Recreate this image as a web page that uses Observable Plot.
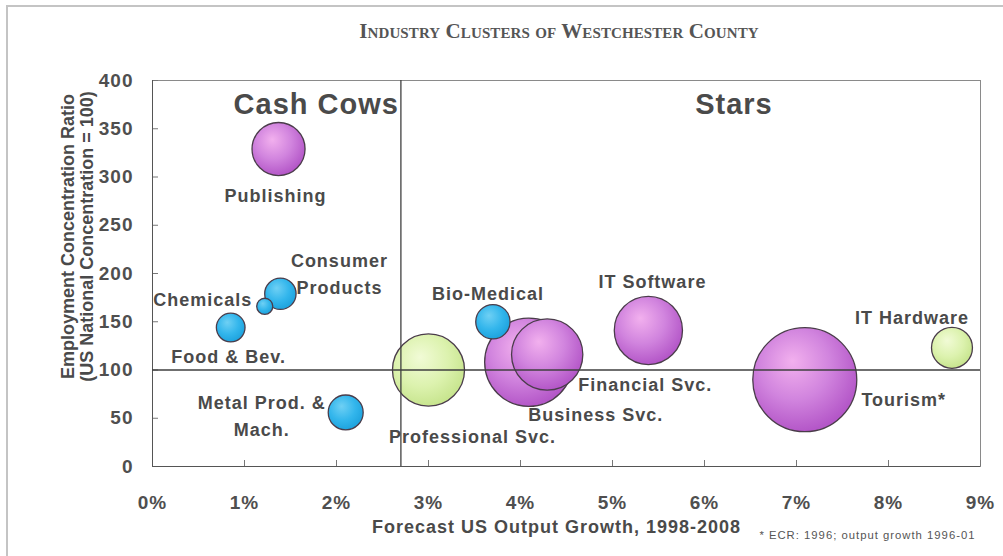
<!DOCTYPE html>
<html>
<head>
<meta charset="utf-8">
<script src="https://cdn.jsdelivr.net/npm/d3@7"></script>
<script src="https://cdn.jsdelivr.net/npm/@observablehq/plot@0.6"></script>
<style>
  body { margin: 0; background: #fff; }
  #wrap { position: relative; width: 1003px; height: 556px; overflow: hidden; background: #fff; }
  #border { position: absolute; left: 6px; top: 5px; width: 1200px; height: 800px;
            border-left: 2px solid #c4c4c4; border-top: 2px solid #c4c4c4; pointer-events: none; }
  #title { height: 45px; box-sizing: border-box; padding-top: 21px; padding-left: 115px;
           line-height: 21px; font-family: "Liberation Serif", "Times New Roman", serif; letter-spacing: 0.1px;
           font-weight: bold; font-variant: small-caps; font-size: 21px; color: #555; text-align: center; }
  svg text { letter-spacing: 1px; }
  svg text.nospace { letter-spacing: 0; }
</style>
</head>
<body>
<div id="wrap">
  <div id="title">Industry Clusters of Westchester County</div>
  <div id="chart"></div>
  <div id="border"></div>
</div>
<script>
// ---- data ----
const clusters = ["Publishing", "Consumer Products", "Chemicals", "Food & Bev.", "Metal Prod. & Mach.",
  "Professional Svc.", "Business Svc.", "Financial Svc.", "Bio-Medical", "IT Software", "Tourism*", "IT Hardware"];
const clusterLabels = ["Publishing", "Consumer\nProducts", "Chemicals", "Food & Bev.", "Metal Prod. &\nMach.",
  "Professional Svc.", "Business Svc.", "Financial Svc.", "Bio-Medical", "IT Software", "Tourism*", "IT Hardware"];
// Forecast US output growth 1998-2008 (%)
const growth = [1.37, 1.39, 1.22, 0.85, 2.10, 3.00, 4.09, 4.29, 3.70, 5.39, 7.09, 8.69];
// Employment concentration ratio (US = 100)
const concentration = [329, 179, 166, 144, 56, 100, 108, 116, 150, 141, 90, 123];
// bubble size (relative employment)
const size = [26, 9.1, 2.4, 7.6, 11.3, 48, 72, 47, 10.9, 43, 100, 15.5];
const group = ["A", "B", "B", "B", "B", "C", "A", "A", "B", "A", "A", "C"];
const groups = ["A", "B", "C"];
const xTicks = [0, 1, 2, 3, 4, 5, 6, 7, 8, 9];
const yTicks = [0, 50, 100, 150, 200, 250, 300, 350, 400];
const dividerX = 2.7;
const benchmarkY = 100;
const quadrantNames = ["Cash Cows", "Stars"];
const xLabel = "Forecast US Output Growth, 1998-2008";
const yLabel = "Employment Concentration Ratio\n(US National Concentration = 100)";
const footnote = "* ECR: 1996; output growth 1996-01";

// ---- layout (label offsets in px) ----
const labelOffset = {
  "Publishing": [-3, 44], "Consumer Products": [59, -22], "Chemicals": [-62, -9],
  "Food & Bev.": [-2, 27], "Metal Prod. & Mach.": [-84, 1], "Professional Svc.": [44, 64],
  "Business Svc.": [67, 50], "Financial Svc.": [98, 28], "Bio-Medical": [-5, -30],
  "IT Software": [4, -51], "Tourism*": [99, 18], "IT Hardware": [-40, -32]
};
const starsX = 6.32;

const data = clusters.map((name, i) => ({
  name, label: clusterLabels[i], growth: growth[i], ecr: concentration[i], size: size[i], group: group[i]
}));

const labelMarks = data.map(d => Plot.text([d], {
  x: "growth", y: "ecr", text: "label", dx: labelOffset[d.name][0], dy: labelOffset[d.name][1],
  fontSize: 18, lineHeight: 1.5, fill: "#4a4a4a"
}));

const plot = Plot.plot({
  width: 1003, height: 511,
  marginTop: 35, marginBottom: 90, marginLeft: 152, marginRight: 23,
  style: { fontFamily: "'Liberation Sans', Arial, sans-serif", fontWeight: "bold", fontSize: "19px",
           color: "#4f4f4f", background: "transparent", overflow: "visible" },
  x: { domain: [0, 9] },
  y: { domain: [0, 400] },
  r: { type: "sqrt", domain: [0, 100], range: [0, 52] },
  color: { domain: groups, range: ["url(#gPurple)", "url(#gBlue)", "url(#gGreen)"] },
  marks: [
    Plot.frame({ stroke: "#8a8a8a", strokeWidth: 1 }),
    Plot.ruleX(xTicks, { x: d => d, insetTop: 380, stroke: "#777" }),
    Plot.ruleY(yTicks, { y: d => d, insetRight: 822, stroke: "#777" }),
    Plot.axisX(xTicks, { tickSize: 0, tickPadding: 29, tickFormat: d => d + "%", label: null, fontSize: 19 }),
    Plot.axisY(yTicks, { tickSize: 0, tickPadding: 19, label: null, fontSize: 19 }),
    Plot.ruleX([0], { stroke: "#555" }),
    Plot.ruleY([0], { stroke: "#555" }),
    Plot.dot(data, { x: "growth", y: "ecr", r: "size", fill: "group", stroke: "#4a3c4a", strokeWidth: 1.3 }),
    Plot.ruleX([dividerX], { stroke: "#3f3f3f", strokeWidth: 1.3 }),
    Plot.ruleY([benchmarkY], { stroke: "#3f3f3f", strokeWidth: 1.3 }),
    ...labelMarks,
    Plot.text([quadrantNames[0]], { x: dividerX, frameAnchor: "top", text: d => d, textAnchor: "end",
      lineAnchor: "top", dx: -2, dy: 13, fontSize: 29, fill: "#4a4a4a" }),
    Plot.text([quadrantNames[1]], { x: starsX, frameAnchor: "top", text: d => d, textAnchor: "middle",
      lineAnchor: "top", dy: 13, fontSize: 29, fill: "#4a4a4a" }),
    Plot.text([yLabel], { frameAnchor: "left", text: d => d, rotate: -90, textAnchor: "middle", dx: -75, dy: -37,
      lineHeight: 1.05, fontSize: 18, fill: "#4a4a4a" }),
    Plot.text([xLabel], { frameAnchor: "bottom", text: d => d, textAnchor: "middle", dx: -10, dy: 66, fontSize: 18,
      fill: "#4a4a4a" }),
    Plot.text([footnote], { frameAnchor: "bottom-right", text: d => d, textAnchor: "end", dx: -5, dy: 72,
      fontSize: 11.3, fontWeight: "normal", fill: "#555" })
  ]
});

const svg = plot.tagName.toLowerCase() === "svg" ? plot : plot.querySelector("svg");
// the rotated axis title keeps normal letter spacing
d3.select(svg).selectAll("text")
  .filter(function () { return this.textContent.startsWith("Employment"); })
  .classed("nospace", true);

const defs = d3.select(svg).insert("defs", ":first-child");
function grad(id, stops) {
  const g = defs.append("radialGradient").attr("id", id)
    .attr("cx", "42%").attr("cy", "38%").attr("r", "62%").attr("fx", "38%").attr("fy", "32%");
  stops.forEach(([o, c]) => g.append("stop").attr("offset", o).attr("stop-color", c));
}
grad("gPurple", [["0%", "#f2b0ee"], ["55%", "#d184de"], ["100%", "#b457c8"]]);
grad("gBlue", [["0%", "#6fd0f4"], ["60%", "#33b6ec"], ["100%", "#1ea3de"]]);
grad("gGreen", [["0%", "#f1fbd6"], ["60%", "#dcf2ae"], ["100%", "#c8e58f"]]);

document.getElementById("chart").appendChild(plot);
</script>
</body>
</html>
